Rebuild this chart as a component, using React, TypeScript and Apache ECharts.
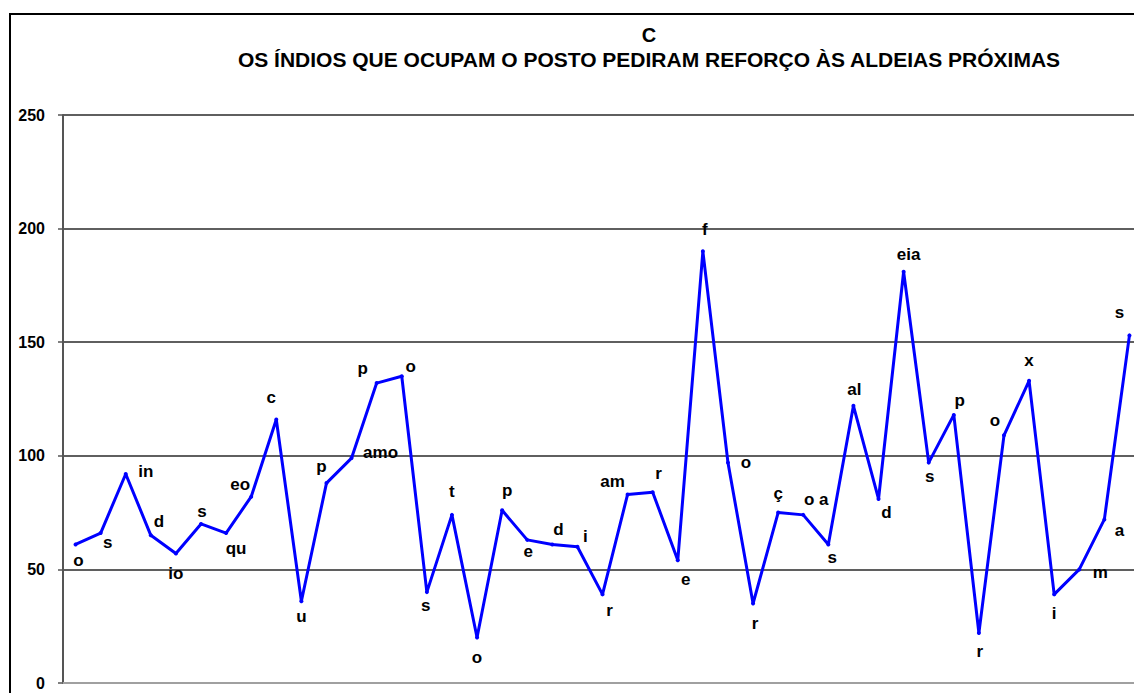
import React, { useEffect, useRef } from "react";
import * as echarts from "echarts";

const titleLine1 = "C";
const titleLine2 = "OS ÍNDIOS QUE OCUPAM O POSTO PEDIRAM REFORÇO ÀS ALDEIAS PRÓXIMAS";

const pointLabels = [
  "o", "s", "in", "d", "io", "s", "qu", "eo", "c", "u",
  "p", "amo", "p", "o", "s", "t", "o", "p", "e", "d",
  "i", "r", "am", "r", "e", "f", "o", "r", "ç", "o a",
  "s", "al", "d", "eia", "s", "p", "r", "o", "x", "i",
  "m", "a", "s",
];

const values = [
  61, 66, 92, 65, 57, 70, 66, 82, 116, 36,
  88, 99, 132, 135, 40, 74, 20, 76, 63, 61,
  60, 39, 83, 84, 54, 190, 97, 35, 75, 74,
  61, 122, 81, 181, 97, 118, 22, 109, 133, 39,
  50, 72, 153,
];

const yTicks = [0, 50, 100, 150, 200, 250];

// label offsets (dx, dy) relative to each point
const labelOffsets: [number, number][] = [
  [3, 16], [7, 9], [20, -2], [8, -14], [0, 20], [1, -12], [10, 15], [-11, -12], [-5, -22], [0, 15],
  [-5, -17], [29, -6], [-14, -15], [9, -10], [-1, 13], [0, -23], [0, 20], [5, -20], [1, 12], [6, -15],
  [8, -10], [7, 16], [-15, -13], [6, -19], [8, 19], [2, -22], [18, 0], [2, 20], [0, -19], [13, -15],
  [4, 13], [1, -16], [8, 14], [5, -17], [1, 14], [6, -14], [1, 18], [-9, -15], [0, -20], [0, 19],
  [21, 3], [15, 11], [-10, -23],
];

const SYMBOL = 4;

export default function App() {
  const ref = useRef<HTMLDivElement>(null);
  useEffect(() => {
    document.body.style.margin = "0";
    document.body.style.overflow = "hidden";
    document.documentElement.style.overflow = "hidden";
    const chart = echarts.init(ref.current!, null, { renderer: "svg" });
    const font = "Liberation Sans, Arial, sans-serif";
    chart.setOption({
      animation: false,
      backgroundColor: "#ffffff",
      graphic: [
        {
          type: "rect",
          shape: { x: 10, y: 14, width: 1300, height: 900 },
          style: { fill: "none", stroke: "#000", lineWidth: 2 },
          z: 10,
        },
        {
          type: "text",
          x: 649,
          y: 35,
          style: {
            text: titleLine1,
            align: "center",
            verticalAlign: "middle",
            fontSize: 20,
            fontWeight: "bold",
            fontFamily: font,
            fill: "#000",
          },
        },
        {
          type: "text",
          x: 649,
          y: 59,
          style: {
            text: titleLine2,
            align: "center",
            verticalAlign: "middle",
            fontSize: 21,
            fontWeight: "bold",
            fontFamily: font,
            fill: "#000",
          },
        },
      ],
      grid: { left: 63, top: 115, right: 0, bottom: 10, containLabel: false },
      xAxis: {
        type: "category",
        boundaryGap: true,
        data: values.map((_, i) => String(i + 1)),
        axisLabel: { show: false },
        axisTick: { show: false },
        axisLine: { show: true, lineStyle: { color: "#a0a0a0", width: 2 } },
        splitLine: { show: false },
      },
      yAxis: {
        type: "value",
        min: yTicks[0],
        max: yTicks[yTicks.length - 1],
        interval: 50,
        axisLine: { show: true, lineStyle: { color: "#555", width: 2 } },
        axisTick: { show: true, length: 5, lineStyle: { color: "#555", width: 1.5 } },
        axisLabel: {
          margin: 18,
          fontSize: 16,
          fontWeight: "bold",
          fontFamily: font,
          color: "#000",
        },
        splitLine: { show: true, lineStyle: { color: "#2a2a2a", width: 1.5 } },
      },
      series: [
        {
          type: "line",
          symbol: "circle",
          symbolSize: SYMBOL,
          lineStyle: { color: "#0000ff", width: 3 },
          itemStyle: { color: "#0000ff" },
          label: {
            show: true,
            fontSize: 17,
            fontWeight: "bold",
            fontFamily: font,
            color: "#000",
            align: "center",
            verticalAlign: "middle",
            formatter: (p: any) => pointLabels[p.dataIndex],
          },
          data: values.map((v, i) => ({
            value: v,
            label: {
              position: [SYMBOL / 2 + labelOffsets[i][0], SYMBOL / 2 + labelOffsets[i][1]],
            },
          })),
        },
      ],
    });
    return () => chart.dispose();
  }, []);
  return <div ref={ref} style={{ width: 1142, height: 693 }} />;
}
